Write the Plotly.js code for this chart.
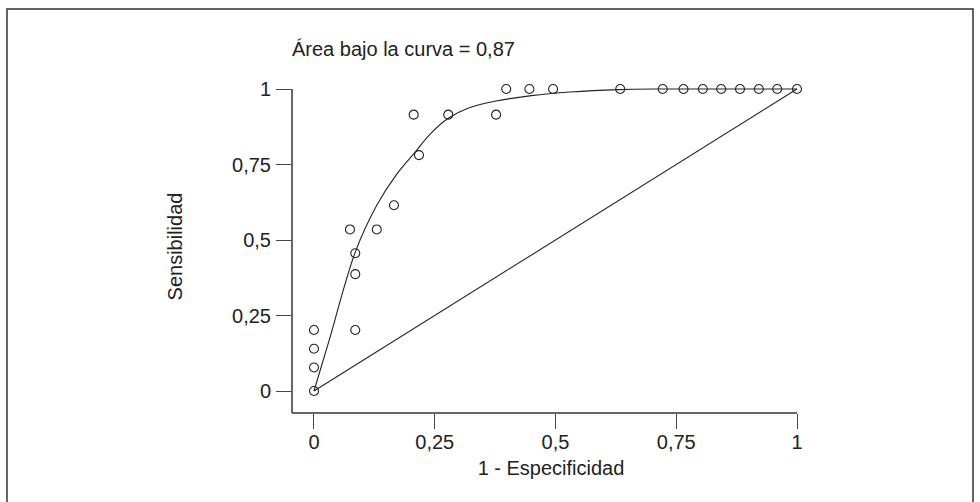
<!DOCTYPE html>
<html>
<head>
<meta charset="utf-8">
<script src="https://cdn.plot.ly/plotly-3.0.1.min.js"></script>
<style>html,body{margin:0;padding:0;background:#fff;}#chart{width:980px;height:502px;}</style>
</head>
<body>
<div id="chart"></div>
<script>
// Observed points (1 - especificidad, sensibilidad)
const fprPoints = [0, 0, 0, 0, 0.0855, 0.0855, 0.0855, 0.0745, 0.13, 0.1656, 0.2064, 0.2174, 0.278, 0.377, 0.398, 0.446, 0.495, 0.634, 0.722, 0.765, 0.805, 0.843, 0.882, 0.921, 0.959, 1.0];
const tprPoints = [0, 0.078, 0.14, 0.202, 0.202, 0.387, 0.456, 0.535, 0.535, 0.615, 0.915, 0.781, 0.915, 0.915, 1, 1, 1, 1, 1, 1, 1, 1, 1, 1, 1, 1];

// Fitted ROC curve
const fprCurve = [0, 0.03, 0.0855, 0.13, 0.17, 0.209, 0.24, 0.278, 0.32, 0.377, 0.45, 0.53, 0.63, 0.72, 0.85, 1.0];
const tprCurve = [0, 0.16, 0.46, 0.615, 0.715, 0.79, 0.85, 0.903, 0.937, 0.96, 0.978, 0.99, 0.998, 1, 1, 1];

// Chance diagonal
const diagX = [0, 1];
const diagY = [0, 1];

const tickVals = [0, 0.25, 0.5, 0.75, 1];
const tickText = ['0', '0,25', '0,5', '0,75', '1'];

const titleText = 'Área bajo la curva = 0,87';
const xTitle = '1 - Especificidad';
const yTitle = 'Sensibilidad';

const FONT = 'Liberation Sans, Arial, Helvetica, sans-serif';
const INK = '#222';

const xMin = -0.0455, xMax = 1.0269;
const yMin = -0.0728, yMax = 1.0298;

const traces = [
  {x: diagX, y: diagY, mode: 'lines', line: {color: INK, width: 1.1}, hoverinfo: 'skip'},
  {x: fprCurve, y: tprCurve, mode: 'lines', line: {color: INK, width: 1.1, shape: 'spline', smoothing: 1}, hoverinfo: 'skip'},
  {x: fprPoints, y: tprPoints, mode: 'markers', cliponaxis: false,
   marker: {symbol: 'circle-open', size: 9, color: INK, line: {width: 1.1, color: INK}}}
];

const layout = {
  width: 980, height: 502,
  margin: {l: 292, r: 170, t: 80, b: 89},
  paper_bgcolor: '#fff', plot_bgcolor: '#fff',
  showlegend: false,
  font: {family: FONT, size: 20, color: INK},
  title: {text: titleText, x: 0, xref: 'paper', xanchor: 'left', y: 1 - 49/502, yref: 'container', yanchor: 'middle',
          font: {family: FONT, size: 20, color: INK}},
  xaxis: {
    range: [xMin, xMax], showgrid: false, zeroline: false, showline: false,
    tickmode: 'array', tickvals: tickVals, ticktext: tickText,
    ticks: 'outside', ticklen: 15, tickwidth: 1, tickcolor: '#444',
    ticklabelstandoff: -4,
    tickfont: {family: FONT, size: 20, color: INK},
    title: {text: xTitle, standoff: 8, font: {family: FONT, size: 20, color: INK}}
  },
  yaxis: {
    range: [yMin, yMax], showgrid: false, zeroline: false, showline: false,
    tickmode: 'array', tickvals: tickVals, ticktext: tickText,
    ticks: 'outside', ticklen: 15, tickwidth: 1, tickcolor: '#444',
    ticklabelstandoff: 1,
    tickfont: {family: FONT, size: 20, color: INK},
    title: {text: yTitle, standoff: 44, font: {family: FONT, size: 20, color: INK}}
  },
  shapes: [
    // axis lines (R style, end at value 1)
    {type: 'line', xref: 'paper', yref: 'y', x0: 0, x1: 0, y0: yMin, y1: 1, line: {color: '#333', width: 1.5}},
    {type: 'line', xref: 'x', yref: 'paper', x0: xMin, x1: 1, y0: 0, y1: 0, line: {color: '#333', width: 1.5}},
    // outer frame
    {type: 'rect', xref: 'paper', yref: 'paper', x0: (7-292)/518, x1: (973-292)/518, y0: (413-520)/333, y1: (413-9)/333,
     line: {color: '#333', width: 1.5}, fillcolor: 'rgba(0,0,0,0)', layer: 'below'}
  ]
};

Plotly.newPlot('chart', traces, layout, {displayModeBar: false, staticPlot: true});
</script>
</body>
</html>
